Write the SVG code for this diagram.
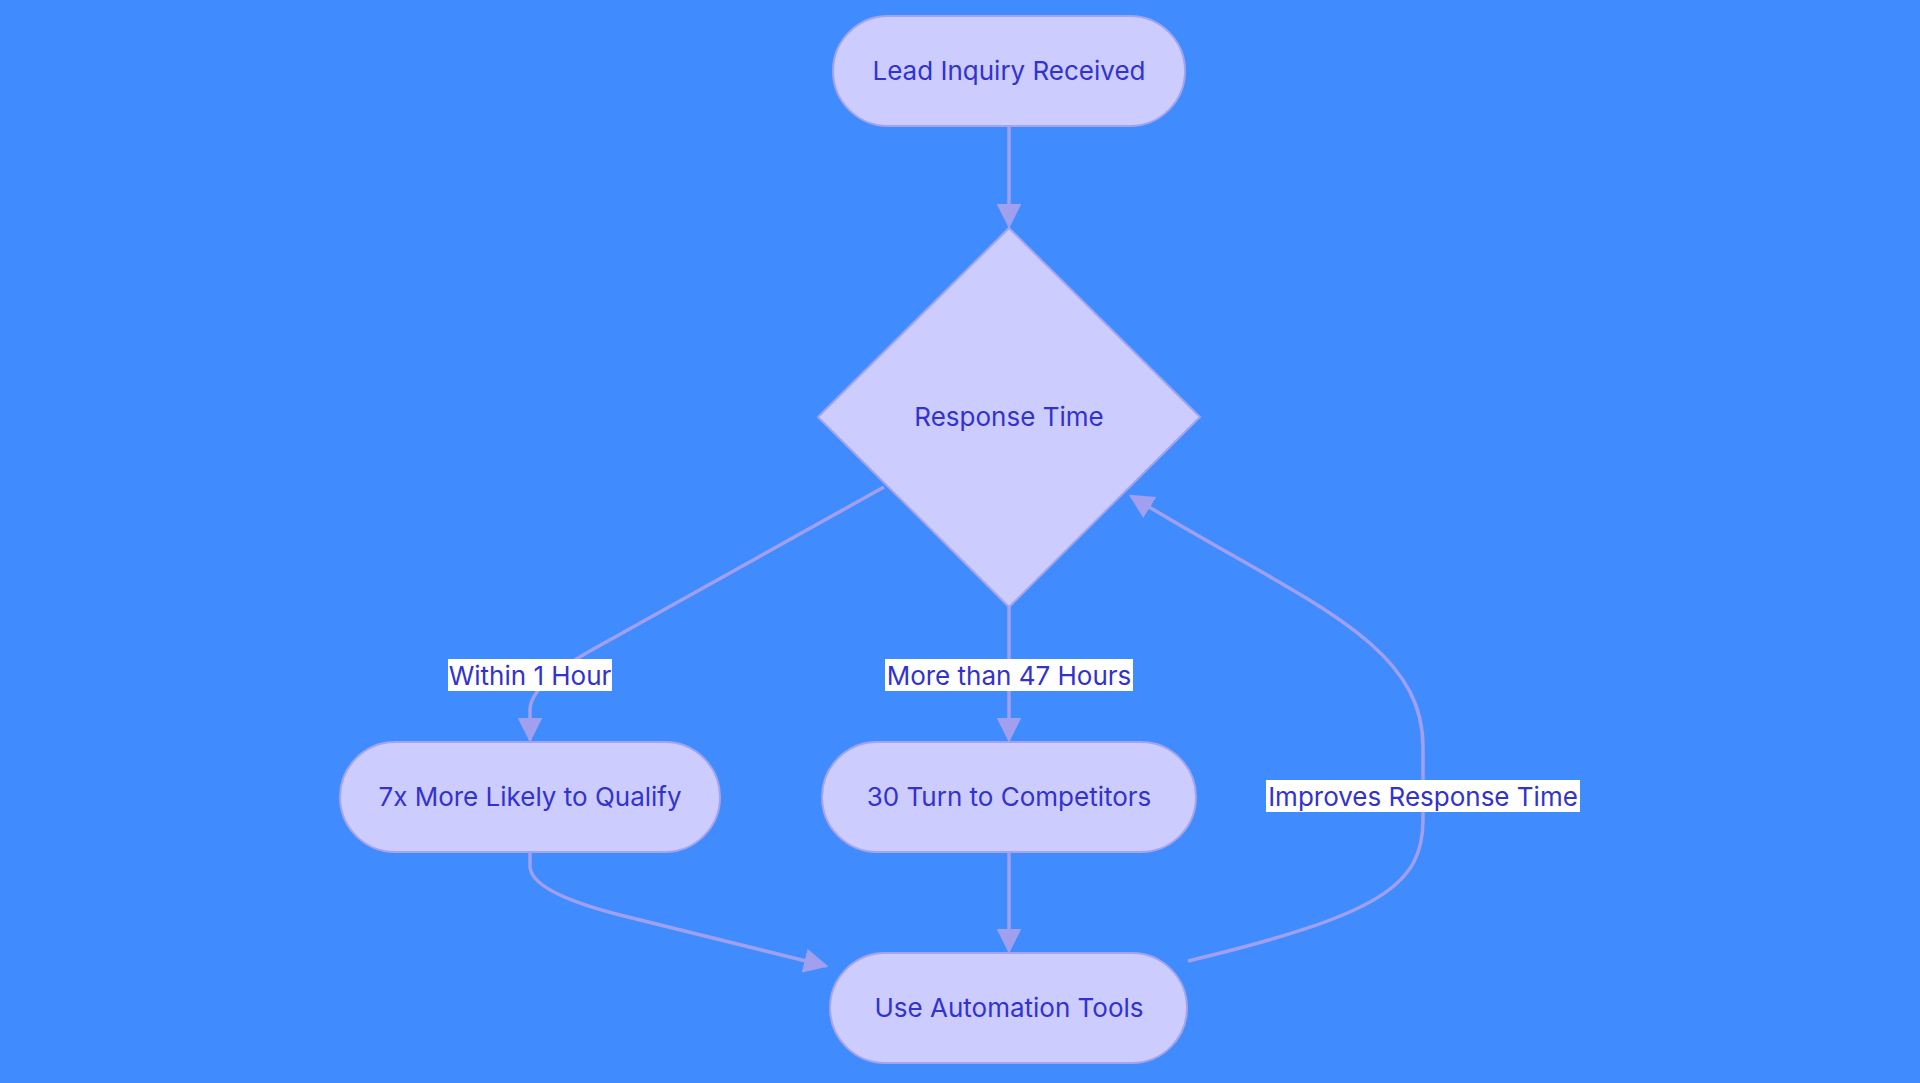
<svg xmlns="http://www.w3.org/2000/svg" width="1920" height="1083" viewBox="0 0 1920 1083">
<style>
.n{fill:#CCCCFF;stroke:#A3A3EE;stroke-width:2}
.t{font-family:Inter,"Noto Sans",sans-serif;font-size:26px;fill:#3333CC;text-anchor:middle;dominant-baseline:central}
.e{fill:none;stroke:#A0A0EE;stroke-width:3.5}
.lb{fill:#FFFFFF}
</style>
<defs><marker id="a" viewBox="0 0 10 10" refX="9" refY="5" markerWidth="7" markerHeight="7" markerUnits="userSpaceOnUse" orient="auto"><path d="M0,0L10,5L0,10z" fill="#A0A0EE"/></marker>
<marker id="m" viewBox="0 0 10 10" refX="9" refY="5" markerWidth="7" markerHeight="7" orient="auto"><path d="M0,0L10,5L0,10z" fill="#A0A0EE"/></marker></defs>
<rect width="1920" height="1083" fill="#408CFF"/>
<g id="edges">
<path class="e" marker-end="url(#m)" d="M1009,126 L1009,226"/>
<path class="e" marker-end="url(#m)" d="M884,487 L590,651 Q530,685 530,710 L530,740"/>
<path class="e" marker-end="url(#m)" d="M1009,607 L1009,740"/>
<path class="e" marker-end="url(#m)" d="M530,852 L530,866 Q530,892 620,915 L826,966"/>
<path class="e" marker-end="url(#m)" d="M1009,852 L1009,951"/>
<path class="e" marker-end="url(#m)" d="M1188,961 C1380,915 1423,885 1423,820 L1423,747 C1423,640 1300,600 1131,496"/>
<rect class="lb" x="448" y="659" width="164" height="32"/><text class="t" x="530" y="675">Within 1 Hour</text>
<rect class="lb" x="885" y="659" width="248" height="32"/><text class="t" x="1009" y="675">More than 47 Hours</text>
<rect class="lb" x="1266" y="780" width="314" height="32"/><text class="t" x="1423" y="796">Improves Response Time</text>
</g>
<g id="lead"><rect class="n" x="833" y="16" width="352" height="110" rx="55"/><text class="t" x="1009" y="70">Lead Inquiry Received</text></g>
<g id="resp"><path class="n" d="M1009,228 L1200,417 L1009,607 L818,417Z"/><text class="t" x="1009" y="416">Response Time</text></g>
<g id="qual"><rect class="n" x="340" y="742" width="380" height="110" rx="55"/><text class="t" x="530" y="796">7x More Likely to Qualify</text></g>
<g id="comp"><rect class="n" x="822" y="742" width="374" height="110" rx="55"/><text class="t" x="1009" y="796">30 Turn to Competitors</text></g>
<g id="auto"><rect class="n" x="830" y="953" width="357" height="110" rx="55"/><text class="t" x="1009" y="1007">Use Automation Tools</text></g>
</svg>
